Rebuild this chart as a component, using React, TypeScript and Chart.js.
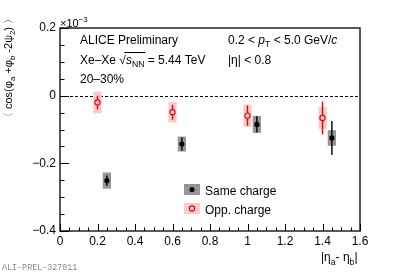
import React, { useEffect, useRef } from "react";
import { Chart, registerables } from "chart.js";

Chart.register(...registerables);

// ---- data ----
const sameX = [0.25, 0.65, 1.05, 1.45];
const sameY = [-0.251, -0.143, -0.085, -0.125];
const sameStat = [0.015, 0.02, 0.024, 0.05];
const sameSys = [0.024, 0.022, 0.025, 0.023];

const oppX = [0.2, 0.6, 1.0, 1.4];
const oppY = [-0.02, -0.049, -0.059, -0.066];
const oppStat = [0.02, 0.022, 0.03, 0.049];
const oppSys = [0.032, 0.03, 0.033, 0.032];

const sysHalfWidth = 0.022;
const xMin = 0, xMax = 1.6, xStep = 0.2, xMinorStep = 0.05;
const yMin = -0.4, yMax = 0.2, yStep = 0.2, yMinorStep = 0.05;

const FONT = "'Liberation Sans', Arial, Helvetica, sans-serif";
const GRAY_BOX = "rgb(150,150,150)";
const PINK_BOX = "rgb(255,200,200)";
const RED = "rgb(230,0,0)";

type Seg = { t: string; sub?: boolean; sup?: boolean; it?: boolean };

function segFont(s: Seg, size: number) {
  const fs = s.sub || s.sup ? size * 0.72 : size;
  return `${s.it ? "italic " : ""}${fs}px ${FONT}`;
}

function drawRich(ctx: CanvasRenderingContext2D, segs: Seg[], x: number, y: number, size: number, draw = true): number[] {
  const xs: number[] = [];
  let cx = x;
  for (const s of segs) {
    ctx.font = segFont(s, size);
    const w = ctx.measureText(s.t).width;
    xs.push(cx);
    if (draw) {
      const dy = s.sub ? size * 0.3 : s.sup ? -size * 0.42 : 0;
      ctx.fillText(s.t, cx, y + dy);
    }
    cx += w;
  }
  xs.push(cx);
  return xs;
}

const errorPlugin = {
  id: "errorPlugin",
  beforeDatasetsDraw(chart: any) {
    const { ctx, chartArea, scales } = chart;
    const xs = scales.x, ys = scales.y;
    ctx.save();
    // zero dashed line
    ctx.strokeStyle = "#000";
    ctx.lineWidth = 1;
    ctx.setLineDash([3, 2]);
    const y0 = Math.round(ys.getPixelForValue(0)) + 0.5;
    ctx.beginPath();
    ctx.moveTo(chartArea.left, y0);
    ctx.lineTo(chartArea.right, y0);
    ctx.stroke();
    ctx.setLineDash([]);

    const drawSet = (X: number[], Y: number[], st: number[], sy: number[], box: string, line: string, r: number) => {
      for (let i = 0; i < X.length; i++) {
        const x1 = xs.getPixelForValue(X[i] - sysHalfWidth);
        const x2 = xs.getPixelForValue(X[i] + sysHalfWidth);
        const yt = ys.getPixelForValue(Y[i] + sy[i]);
        const yb = ys.getPixelForValue(Y[i] - sy[i]);
        ctx.fillStyle = box;
        ctx.fillRect(x1, yt, x2 - x1, yb - yt);
      }
      for (let i = 0; i < X.length; i++) {
        const px = xs.getPixelForValue(X[i]);
        const py = ys.getPixelForValue(Y[i]);
        const yt = ys.getPixelForValue(Y[i] + st[i]);
        const yb = ys.getPixelForValue(Y[i] - st[i]);
        ctx.strokeStyle = line;
        ctx.lineWidth = 1.4;
        ctx.beginPath();
        ctx.moveTo(px, yt);
        ctx.lineTo(px, py - r);
        ctx.moveTo(px, py + r);
        ctx.lineTo(px, yb);
        ctx.stroke();
      }
    };
    drawSet(sameX, sameY, sameStat, sameSys, GRAY_BOX, "#000", 0);
    drawSet(oppX, oppY, oppStat, oppSys, PINK_BOX, RED, 3);
    ctx.restore();
  },
  afterDraw(chart: any) {
    const { ctx, chartArea, scales } = chart;
    const xs = scales.x, ys = scales.y;
    const { left, right, top, bottom } = chartArea;
    ctx.save();
    // frame
    ctx.strokeStyle = "#222";
    ctx.lineWidth = 1.5;
    ctx.strokeRect(left, top, right - left, bottom - top);
    // y ticks (inward)
    ctx.lineWidth = 1;
    ctx.strokeStyle = "#000";
    ctx.beginPath();
    const nY = Math.round((yMax - yMin) / yMinorStep);
    for (let k = 0; k <= nY; k++) {
      const v = yMin + k * yMinorStep;
      const major = k % Math.round(yStep / yMinorStep) === 0;
      const py = Math.round(ys.getPixelForValue(v)) + 0.5;
      ctx.moveTo(left, py);
      ctx.lineTo(left + (major ? 9 : 4.5), py);
    }
    const nX = Math.round((xMax - xMin) / xMinorStep);
    for (let k = 0; k <= nX; k++) {
      const v = xMin + k * xMinorStep;
      const major = k % Math.round(xStep / xMinorStep) === 0;
      const px = Math.round(xs.getPixelForValue(v)) + 0.5;
      ctx.moveTo(px, bottom);
      ctx.lineTo(px, bottom - (major ? 7 : 3.5));
    }
    ctx.stroke();

    ctx.fillStyle = "#000";
    ctx.textBaseline = "alphabetic";
    ctx.textAlign = "left";

    // exponent
    drawRich(ctx, [{ t: "×10" }, { t: "−3", sup: true }], 60, 27, 11);

    // annotations
    ctx.font = `12px ${FONT}`;
    ctx.fillText("ALICE Preliminary", 80, 43.5);
    {
      const xsq = drawRich(
        ctx,
        [{ t: "Xe–Xe " }, { t: "√" }, { t: "s", it: true }, { t: "NN", sub: true }, { t: " = 5.44 TeV" }],
        80,
        63.5,
        12
      );
      ctx.strokeStyle = "#000";
      ctx.lineWidth = 1;
      ctx.beginPath();
      ctx.moveTo(xsq[1] + 5, 52.5);
      ctx.lineTo(xsq[4] + 1, 52.5);
      ctx.stroke();
    }
    ctx.font = `12px ${FONT}`;
    ctx.fillText("20–30%", 80, 83);
    drawRich(
      ctx,
      [{ t: "0.2 < " }, { t: "p", it: true }, { t: "T", sub: true }, { t: " < 5.0 GeV/" }, { t: "c", it: true }],
      228,
      43.5,
      12
    );
    drawRich(ctx, [{ t: "|η| < 0.8" }], 228, 63.5, 12);

    // legend
    ctx.fillStyle = GRAY_BOX;
    ctx.fillRect(184, 184, 16, 11);
    ctx.fillStyle = "#000";
    ctx.beginPath();
    ctx.arc(192, 189.5, 2.5, 0, Math.PI * 2);
    ctx.fill();
    ctx.fillStyle = PINK_BOX;
    ctx.fillRect(184, 203, 16, 11);
    ctx.strokeStyle = RED;
    ctx.lineWidth = 1.1;
    ctx.beginPath();
    ctx.arc(192, 208.5, 2.6, 0, Math.PI * 2);
    ctx.stroke();
    ctx.fillStyle = "#000";
    ctx.font = `12px ${FONT}`;
    ctx.fillText("Same charge", 205, 194.5);
    ctx.fillText("Opp. charge", 205, 213.5);

    // x title
    drawRich(ctx, [{ t: "|η" }, { t: "a", sub: true }, { t: "- η" }, { t: "b", sub: true }, { t: "|" }], 321, 261, 12);

    // y title (rotated)
    const ySegs: Seg[] = [
      { t: "〈 cos(φ" },
      { t: "a", sub: true },
      { t: " +φ" },
      { t: "b", sub: true },
      { t: " -2ψ" },
      { t: "2", sub: true },
      { t: ") 〉" },
    ];
    const wpos = drawRich(ctx, ySegs, 0, 0, 11, false);
    const tw = wpos[wpos.length - 1];
    ctx.save();
    ctx.translate(12, 68);
    ctx.rotate(-Math.PI / 2);
    drawRich(ctx, ySegs, -tw / 2, 0, 11);
    ctx.restore();

    // watermark
    ctx.fillStyle = "#8a8a8a";
    ctx.font = `8.4px 'Liberation Mono', 'DejaVu Sans Mono', monospace`;
    ctx.fillText("ALI-PREL-327011", 2, 270);
    ctx.restore();
  },
};

export default function App() {
  const ref = useRef<HTMLCanvasElement | null>(null);
  useEffect(() => {
    if (!ref.current) return;
    const chart = new Chart(ref.current, {
      type: "scatter",
      data: {
        datasets: [
          {
            label: "Same charge",
            data: sameX.map((x, i) => ({ x, y: sameY[i] })),
            pointRadius: 2.6,
            pointBackgroundColor: "#000",
            pointBorderWidth: 0,
            pointHoverRadius: 2.6,
          },
          {
            label: "Opp. charge",
            data: oppX.map((x, i) => ({ x, y: oppY[i] })),
            pointRadius: 2.6,
            pointBackgroundColor: "rgba(0,0,0,0)",
            pointBorderColor: RED,
            pointBorderWidth: 1.1,
            pointHoverRadius: 2.6,
          },
        ],
      },
      options: {
        animation: false,
        responsive: false,
        devicePixelRatio: 1,
        layout: { padding: { left: 0, top: 28, right: 40, bottom: 0 } },
        plugins: { legend: { display: false }, tooltip: { enabled: false } },
        scales: {
          x: {
            type: "linear",
            min: xMin,
            max: xMax,
            grid: { display: false, drawTicks: false },
            border: { display: false },
            ticks: {
              stepSize: xStep,
              padding: 3,
              color: "#000",
              font: { family: FONT, size: 12 },
              maxRotation: 0,
              callback: (v: any) => String(Number(Number(v).toFixed(1))),
            },
            afterFit: (s: any) => {
              s.height = 42;
            },
          },
          y: {
            type: "linear",
            min: yMin,
            max: yMax,
            grid: { display: false, drawTicks: false },
            border: { display: false },
            ticks: {
              stepSize: yStep,
              padding: 4,
              color: "#000",
              font: { family: FONT, size: 12 },
              callback: (v: any) => {
                const n = Number(Number(v).toFixed(1));
                if (n === 0) return "0";
                return (n < 0 ? "−" : "") + Math.abs(n).toFixed(1);
              },
            },
            afterFit: (s: any) => {
              s.width = 60;
            },
          },
        },
      },
      plugins: [errorPlugin],
    });
    return () => chart.destroy();
  }, []);
  return (
    <div style={{ position: "absolute", left: 0, top: 0, width: 400, height: 273 }}>
      <canvas ref={ref} width={400} height={273} style={{ display: "block" }} />
    </div>
  );
}
